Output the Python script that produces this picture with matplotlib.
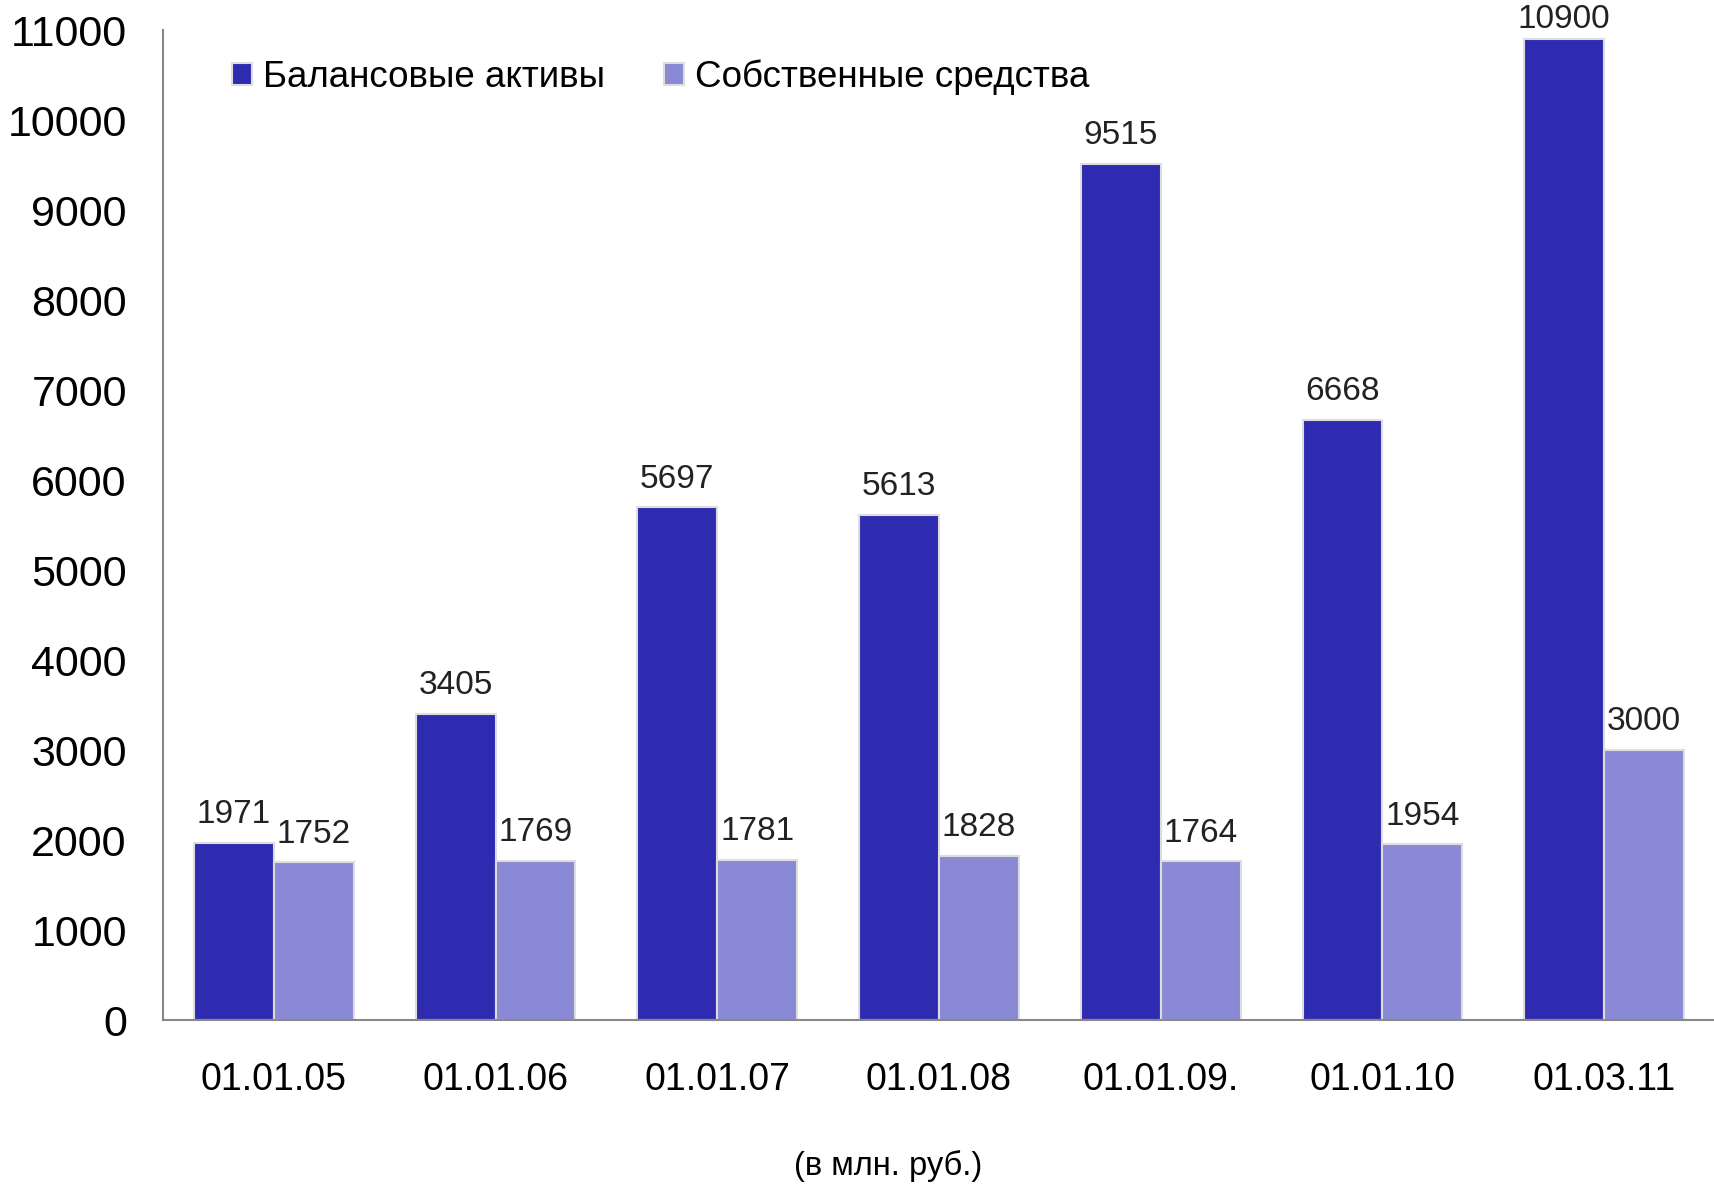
import matplotlib.pyplot as plt
import numpy as np

plt.rcParams['font.family'] = ['Liberation Sans', 'DejaVu Sans']

dates = ['01.01.05', '01.01.06', '01.01.07', '01.01.08', '01.01.09.', '01.01.10', '01.03.11']
assets = [1971, 3405, 5697, 5613, 9515, 6668, 10900]
equity = [1752, 1769, 1781, 1828, 1764, 1954, 3000]

dark = '#2E2BB0'
light = '#8A89D6'
bar_w = 0.36

fig = plt.figure(figsize=(17.15, 11.84), dpi=100)
ax = fig.add_axes([0.095, 0.1385, 0.905, 0.836])

x = np.arange(len(dates))
b1 = ax.bar(x - bar_w/2, assets, bar_w, color=dark, edgecolor='#dddddd', linewidth=1.5,
            label='Балансовые активы')
b2 = ax.bar(x + bar_w/2, equity, bar_w, color=light, edgecolor='#dddddd', linewidth=1.5,
            label='Собственные средства')

# labels above bars; the top one is pushed down so it fits, like Excel does
for bars, vals in [(b1, assets), (b2, equity)]:
    for rect, v in zip(bars, vals):
        ax.text(rect.get_x() + rect.get_width()/2, min(v + 140, 10950), str(v),
                ha='center', va='bottom', fontsize=24, color='#222222', clip_on=False)

ax.set_xlim(-0.5, 6.5)
ax.set_ylim(0, 11000)
ax.set_yticks(range(0, 11001, 1000))
ax.set_xticks(x)
ax.set_xticklabels(dates)
ax.tick_params(axis='y', length=0, labelsize=31, pad=26)
ax.tick_params(axis='x', length=0, labelsize=27, pad=30)

for s in ['top', 'right']:
    ax.spines[s].set_visible(False)
for s in ['left', 'bottom']:
    ax.spines[s].set_color('#888888')
    ax.spines[s].set_linewidth(1.5)

ax.legend(loc='upper left', bbox_to_anchor=(0.023, 1.004), ncol=2, frameon=False,
          fontsize=26.5, handlelength=0.55, handleheight=0.55, handletextpad=0.3,
          columnspacing=1.6)

fig.text(0.518, 0.015, '(в млн. руб.)', ha='center', va='center', fontsize=23.5)

fig.savefig('out.png', dpi=100)
